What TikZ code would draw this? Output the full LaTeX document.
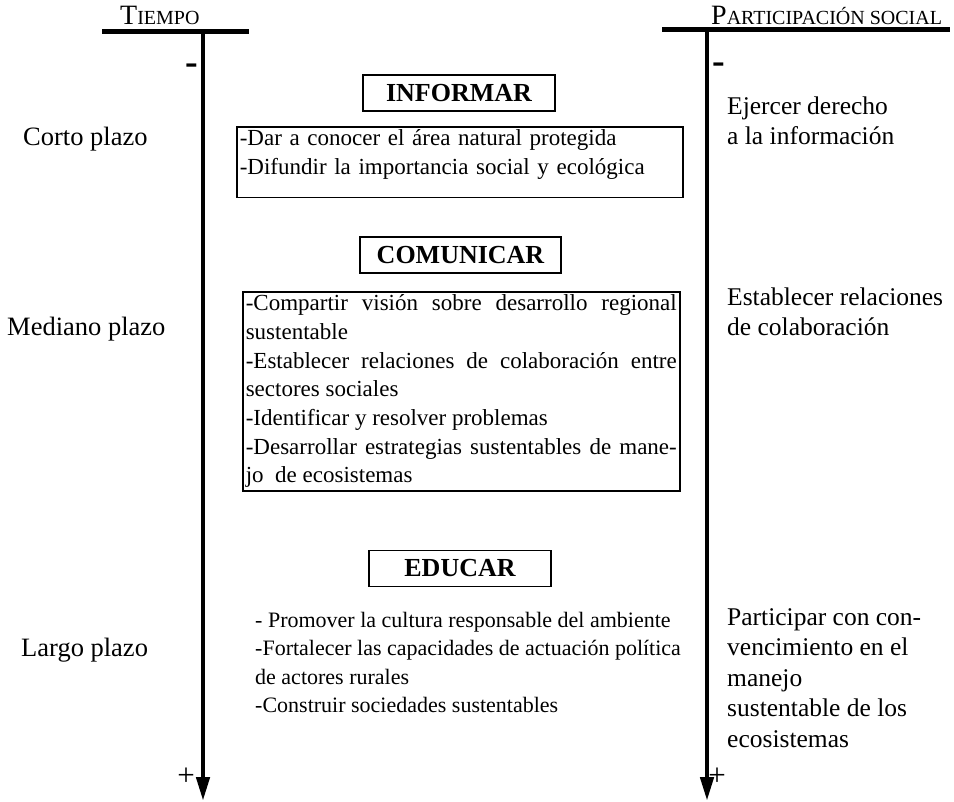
\documentclass[tikz,border=0pt]{standalone}
\usepackage{fontspec}
\setmainfont{Liberation Serif}
\usepackage{tikz}
\usetikzlibrary{arrows.meta, positioning}
\tikzstyle{titlebox} = [rectangle, draw=black, line width=1.6pt, minimum height=36pt, inner sep=0pt, font=\fontsize{26}{26}\selectfont\bfseries]
\tikzstyle{contentbox} = [rectangle, draw=black, line width=1.6pt, anchor=north west, inner xsep=3pt, inner ysep=3pt, font=\fontsize{23}{28.7}\selectfont]
\tikzstyle{sidelabel} = [anchor=base west, inner sep=0pt, align=left, font=\fontsize{25.5}{30.5}\selectfont]
\tikzstyle{sign} = [inner sep=0pt, font=\fontsize{31}{31}\selectfont]
\tikzstyle{header} = [line width=5pt]
\tikzstyle{axis} = [line width=4.5pt, -{Triangle[length=24pt, width=13pt]}]
\newcommand{\bigsc}{\fontsize{28}{28}\selectfont}
\newcommand{\smallsc}{\fontsize{20}{20}\selectfont}

\begin{document}
\begin{tikzpicture}[x=1pt, y=-1pt]

		\useasboundingbox (0,0) rectangle (954,802);

		% ejes
		\coordinate (timeLeft) at (102,32);
		\coordinate (timeRight) at (249,32);
		\coordinate (timeTop) at (203,32);
		\coordinate (timeEnd) at (203,801);
		\coordinate (partLeft) at (662,30);
		\coordinate (partRight) at (950,30);
		\coordinate (partTop) at (707,30);
		\coordinate (partEnd) at (707,801);

		\node (hTiempo)[anchor=base west, inner sep=0pt] at (120,25) {{\bigsc T}{\smallsc IEMPO}};
		\node (hPart)[anchor=base west, inner sep=0pt] at (711,25) {{\bigsc P}{\smallsc ARTICIPACIÓN SOCIAL}};

		\node (minusTime)[sign] at (192,69) {\fontsize{38}{38}\selectfont\bfseries -};
		\node (minusPart)[sign] at (719,68) {\fontsize{38}{38}\selectfont\bfseries -};
		\node (plusTime)[sign] at (186,777) {+};
		\node (plusPart)[sign] at (717,777) {+};

		% plazos
		\node (lCorto)[sidelabel, font=\fontsize{26.5}{30}\selectfont] at (23,146) {Corto plazo};
		\node (lMediano)[sidelabel, font=\fontsize{26.5}{30}\selectfont] at (7,336) {Mediano plazo};
		\node (lLargo)[sidelabel, font=\fontsize{26.5}{30}\selectfont] at (21,656) {Largo plazo};

		% participacion
		\node (rInformar)[sidelabel] at (727,145) {Ejercer derecho\\a la información};
		\node (rComunicar)[sidelabel] at (727,336) {Establecer relaciones\\de colaboración};
		\node (rEducar)[sidelabel] at (727,747) {Participar con con-\\vencimiento en el\\manejo\\sustentable de los\\ecosistemas};

		% informar
		\node (tInformar)[titlebox, minimum width=192pt] at (459,93) {INFORMAR};
		\node (cInformar)[contentbox, text width=440pt, align=left] at (236,126) {-Dar a conocer el área natural protegida\\-Difundir la importancia social y ecológica\rule[-20pt]{0pt}{20pt}};

		% comunicar
		\node (tComunicar)[titlebox, minimum width=201pt] at (460.5,255) {COMUNICAR};
		\node (cComunicar)[contentbox, text width=431pt, align=justify] at (242,291) {-Compartir visión sobre desarrollo regional\linebreak sustentable\\-Establecer relaciones de colaboración entre\linebreak sectores sociales\\-Identificar y resolver problemas\\-Desarrollar estrategias sustentables de mane-\linebreak jo~ de ecosistemas};

		% educar
		\node (tEducar)[titlebox, minimum width=182pt] at (460,568.5) {EDUCAR};
		\node (cEducar)[anchor=base west, inner sep=0pt, align=left, font=\fontsize{22}{28.5}\selectfont] at (255,712.5) {- Promover la cultura responsable del ambiente\\-Fortalecer las capacidades de actuación política\\de actores rurales\\-Construir sociedades sustentables};

		% lines and arrows
		\draw[header] (timeLeft) -- (timeRight);
		\draw[header] (partLeft) -- (partRight);
		\draw[axis] (timeTop) -- (timeEnd);
		\draw[axis] (partTop) -- (partEnd);

	\end{tikzpicture}
\end{document}
